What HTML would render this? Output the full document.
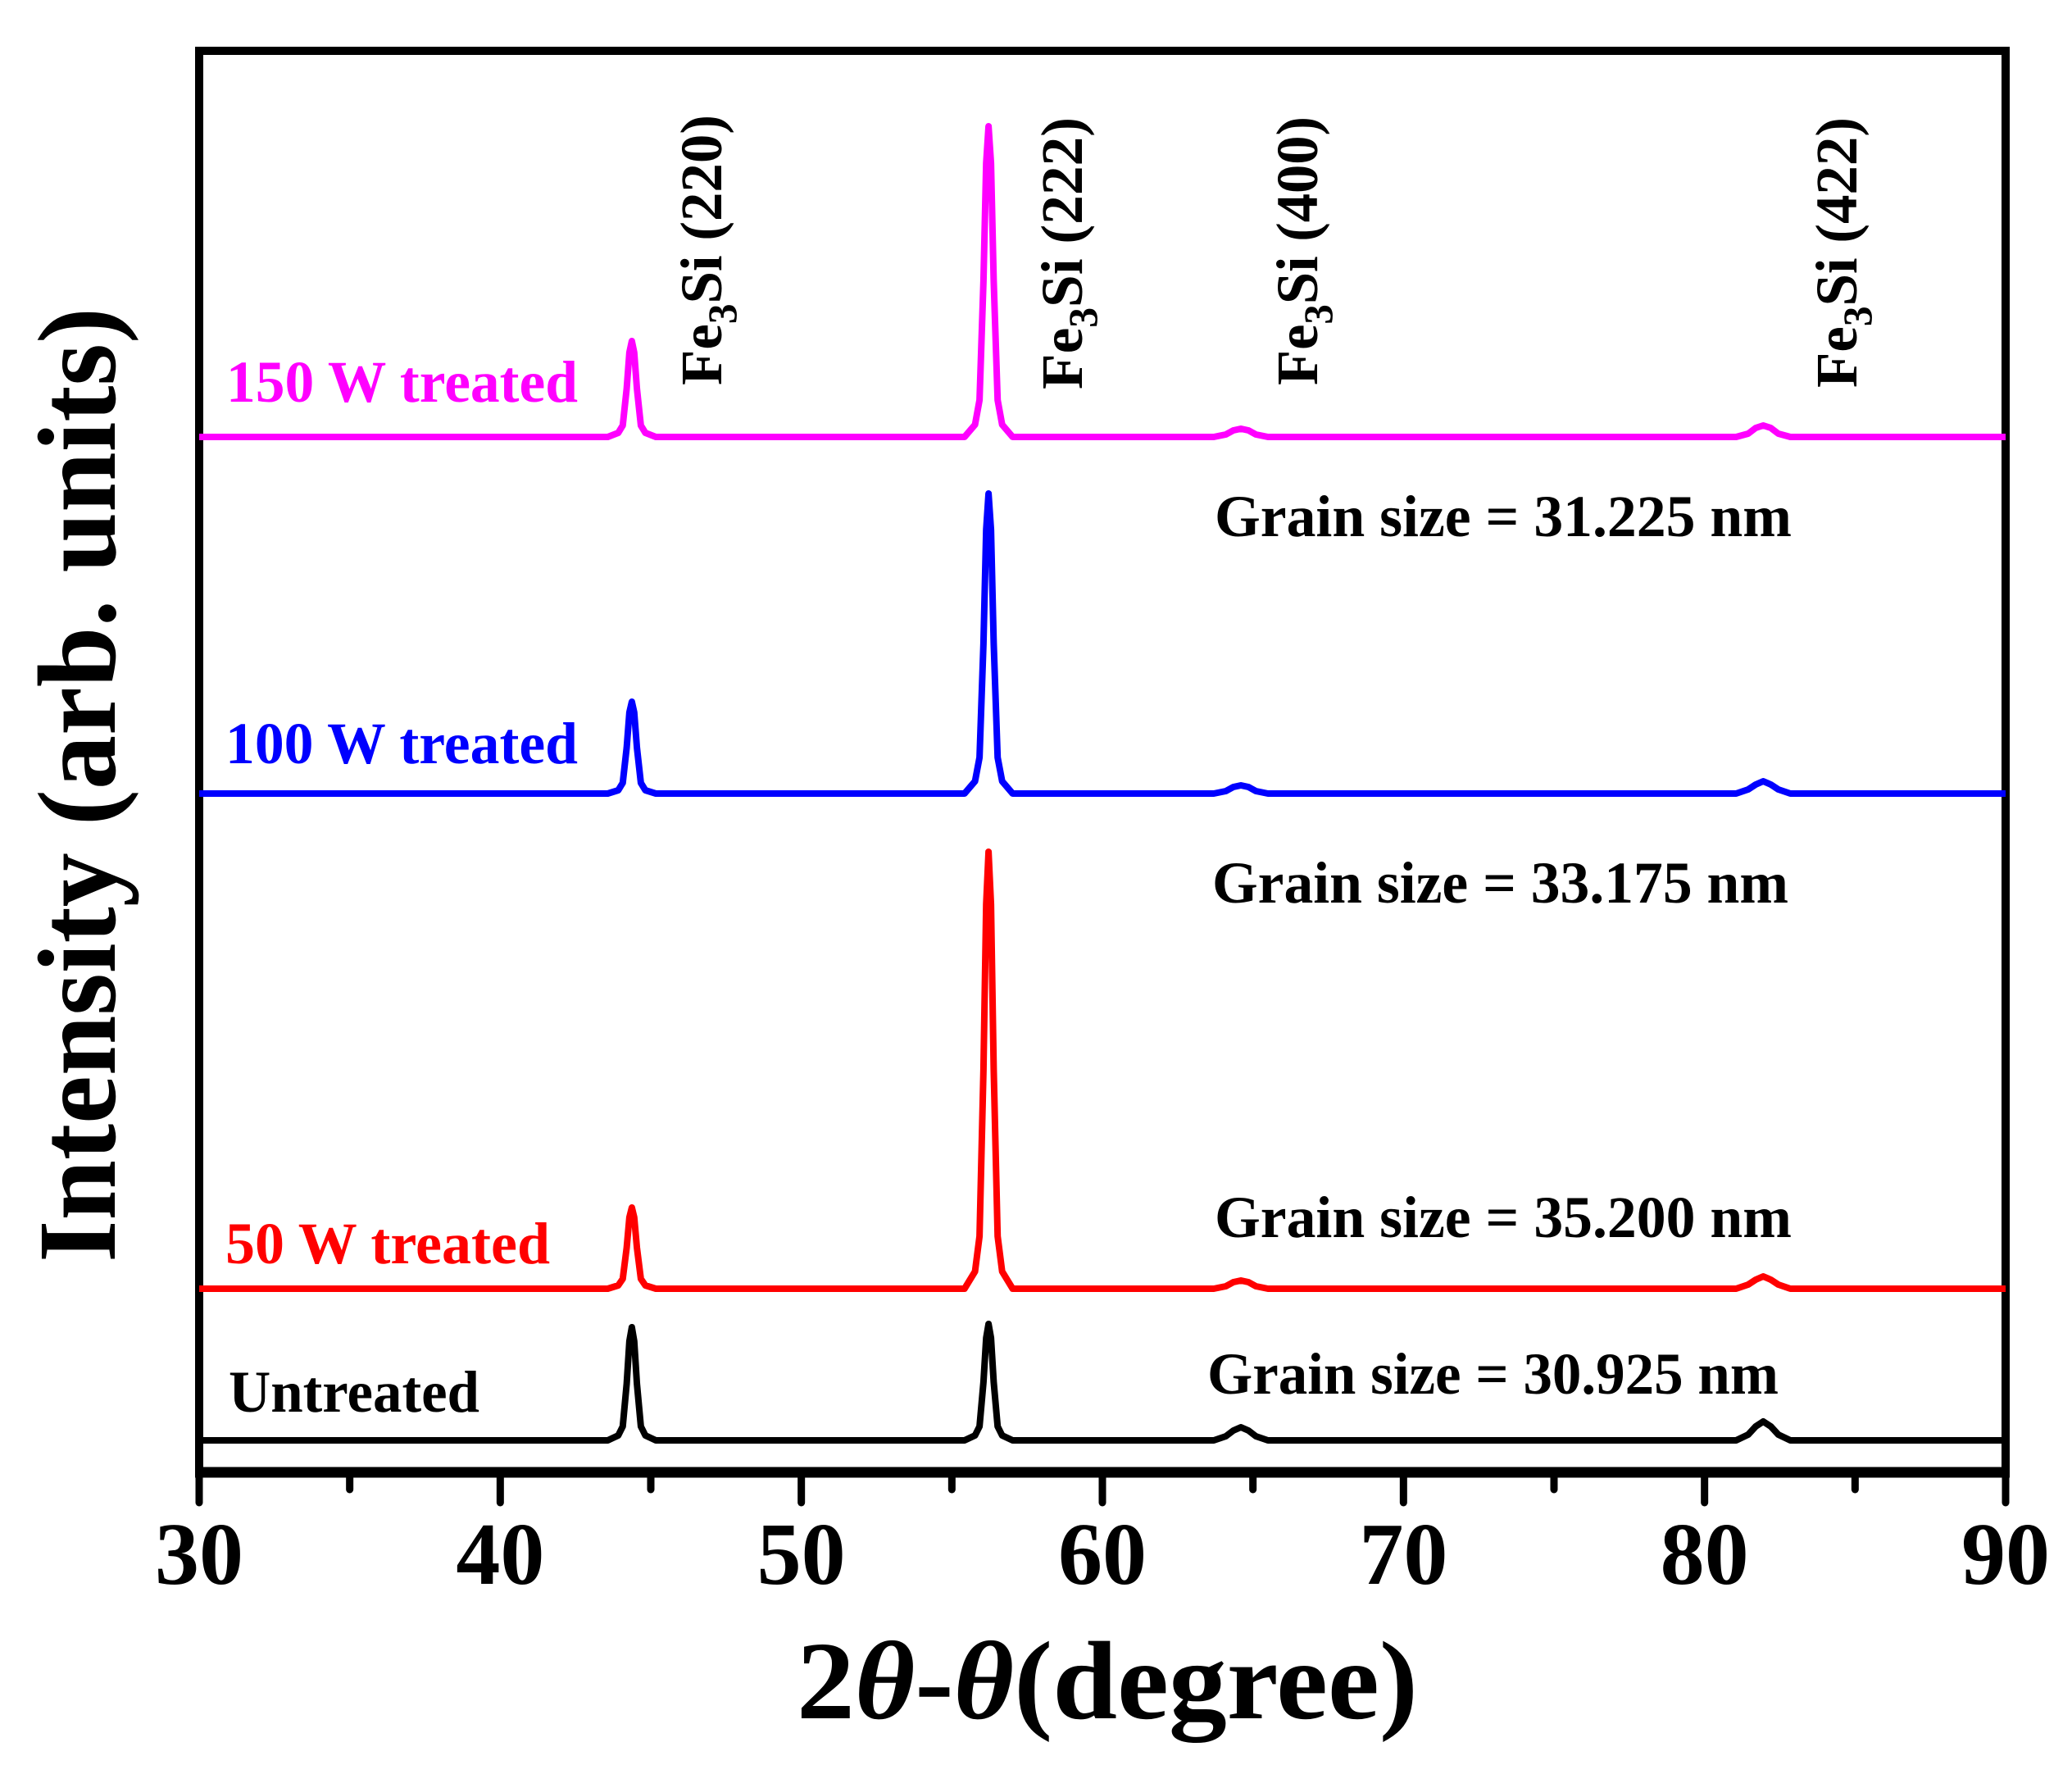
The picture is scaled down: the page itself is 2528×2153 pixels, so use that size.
<!DOCTYPE html>
<html><head><meta charset="utf-8"><style>
html,body{margin:0;padding:0;background:#fff;}
svg{display:block;font-family:"Liberation Serif","Times New Roman",serif;font-weight:bold;}
</style></head><body>
<svg id="chart" width="2528" height="2153" viewBox="0 0 2528 2153" xmlns="http://www.w3.org/2000/svg">
<g id="frame"></g>
<g id="traces"></g>
<g id="ticks"></g>
<g font-size="72">
<text x="276" y="490" fill="#ff00ff" textLength="429" lengthAdjust="spacingAndGlyphs">150 W treated</text>
<text x="275" y="931" fill="#0000ff" textLength="430" lengthAdjust="spacingAndGlyphs">100 W treated</text>
<text x="275" y="1541" fill="#ff0000" textLength="396" lengthAdjust="spacingAndGlyphs">50 W treated</text>
<text x="279" y="1722" fill="#000" textLength="306" lengthAdjust="spacingAndGlyphs">Untreated</text>
<text x="1482" y="654" textLength="704" lengthAdjust="spacingAndGlyphs">Grain size = 31.225 nm</text>
<text x="1479" y="1101" textLength="703" lengthAdjust="spacingAndGlyphs">Grain size = 33.175 nm</text>
<text x="1482" y="1509" textLength="704" lengthAdjust="spacingAndGlyphs">Grain size = 35.200 nm</text>
<text x="1473" y="1700" textLength="697" lengthAdjust="spacingAndGlyphs">Grain size = 30.925 nm</text>
</g>
<g font-size="72">
<text transform="translate(880,470) rotate(-90)" textLength="330" lengthAdjust="spacingAndGlyphs">Fe<tspan dy="18" font-size="50">3</tspan><tspan dy="-18">Si (220)</tspan></text>
<text transform="translate(1320,475) rotate(-90)" textLength="332" lengthAdjust="spacingAndGlyphs">Fe<tspan dy="18" font-size="50">3</tspan><tspan dy="-18">Si (222)</tspan></text>
<text transform="translate(1607,470) rotate(-90)" textLength="328" lengthAdjust="spacingAndGlyphs">Fe<tspan dy="18" font-size="50">3</tspan><tspan dy="-18">Si (400)</tspan></text>
<text transform="translate(2265,473) rotate(-90)" textLength="330" lengthAdjust="spacingAndGlyphs">Fe<tspan dy="18" font-size="50">3</tspan><tspan dy="-18">Si (422)</tspan></text>
</g>
<text transform="translate(140,1540) rotate(-90)" font-size="136" textLength="1165" lengthAdjust="spacingAndGlyphs">Intensity (arb. units)</text>
<text x="972" y="2096" font-size="136" textLength="758" lengthAdjust="spacingAndGlyphs">2<tspan font-style="italic">θ</tspan>-<tspan font-style="italic">θ</tspan>(degree)</text>
</svg>
<script>
const xGrid = [30,
 43.57,43.92,44.07,44.2,44.29,44.37,44.45,44.54,44.67,44.82,45.17,
 55.42,55.77,55.92,56.05,56.14,56.22,56.3,56.39,56.52,56.67,57.02,
 63.7,64.1,64.35,64.6,64.85,65.1,65.5,
 81.05,81.45,81.7,81.95,82.2,82.45,82.85,
 90];
const untreated = [0, 0,6,17,69,121,138,121,69,17,6,0, 0,6,17,71,125,142,125,71,17,6,0, 0,5,12,16,12,5,0, 0,7,17,23,17,7,0, 0];
const w50 = [0, 0,4,12,50,87,99,87,50,12,4,0, 0,21,64,267,469,533,469,267,64,21,0, 0,3,8,10,8,3,0, 0,5,11,15,11,5,0, 0];
const w100 = [0, 0,4,13,56,99,112,99,56,13,4,0, 0,15,44,183,322,366,322,183,44,15,0, 0,3,8,10,8,3,0, 0,5,11,15,11,5,0, 0];
const w150 = [0, 0,5,14,59,103,117,103,59,14,5,0, 0,15,45,190,334,379,334,190,45,15,0, 0,3,8,10,8,3,0, 0,4,11,14,11,4,0, 0];
const seriesOffsets = [0, 185, 789, 1224];
const seriesNames = ['untreated','50w','100w','150w'];
const seriesColors = ['#000000','#ff0000','#0000ff','#ff00ff'];
const xTicks = [30,40,50,60,70,80,90];
const xMinorTicks = [35,45,55,65,75,85];

const NS='http://www.w3.org/2000/svg';
const X0=243, X1=2447, Y0=62, Y1=1796, BASE=1757;
function xs(v){return X0+(v-30)/60*(X1-X0);}
function ys(v){return BASE-v;}
function mk(tag,attrs,parent){const e=document.createElementNS(NS,tag);for(const k in attrs)e.setAttribute(k,attrs[k]);parent.appendChild(e);return e;}

const frame=document.getElementById('frame');
const r=mk('rect',{x:X0,y:Y0,width:X1-X0,height:Y1-Y0,fill:'none',stroke:'#000','stroke-width':10},frame);


const bl=mk('line',{x1:X0-5,x2:X1+5,y1:Y1,y2:Y1,stroke:'#000','stroke-width':13},frame);



const tr=document.getElementById('traces');
const all=[untreated,w50,w100,w150];
all.forEach((s,i)=>{
  const pts=xGrid.map((x,j)=>xs(x).toFixed(1)+','+(ys(s[j]+seriesOffsets[i])).toFixed(1)).join(' ');
  const p=mk('polyline',{points:pts,fill:'none',stroke:seriesColors[i],'stroke-width':8,'stroke-linejoin':'round'},tr);
  
  
});

const tk=document.getElementById('ticks');
xTicks.forEach(v=>{
  const l=mk('line',{x1:xs(v),x2:xs(v),y1:Y1,y2:1833,stroke:'#000','stroke-width':9,'stroke-linecap':'round'},tk);
  
  
  const t=mk('text',{x:xs(v),y:1932,'text-anchor':'middle','font-size':108},tk);
  t.textContent=v;
  
  
});
xMinorTicks.forEach(v=>{
  const l=mk('line',{x1:xs(v),x2:xs(v),y1:Y1,y2:1817,stroke:'#000','stroke-width':9,'stroke-linecap':'round'},tk);
  
  
});
</script>
</body></html>
